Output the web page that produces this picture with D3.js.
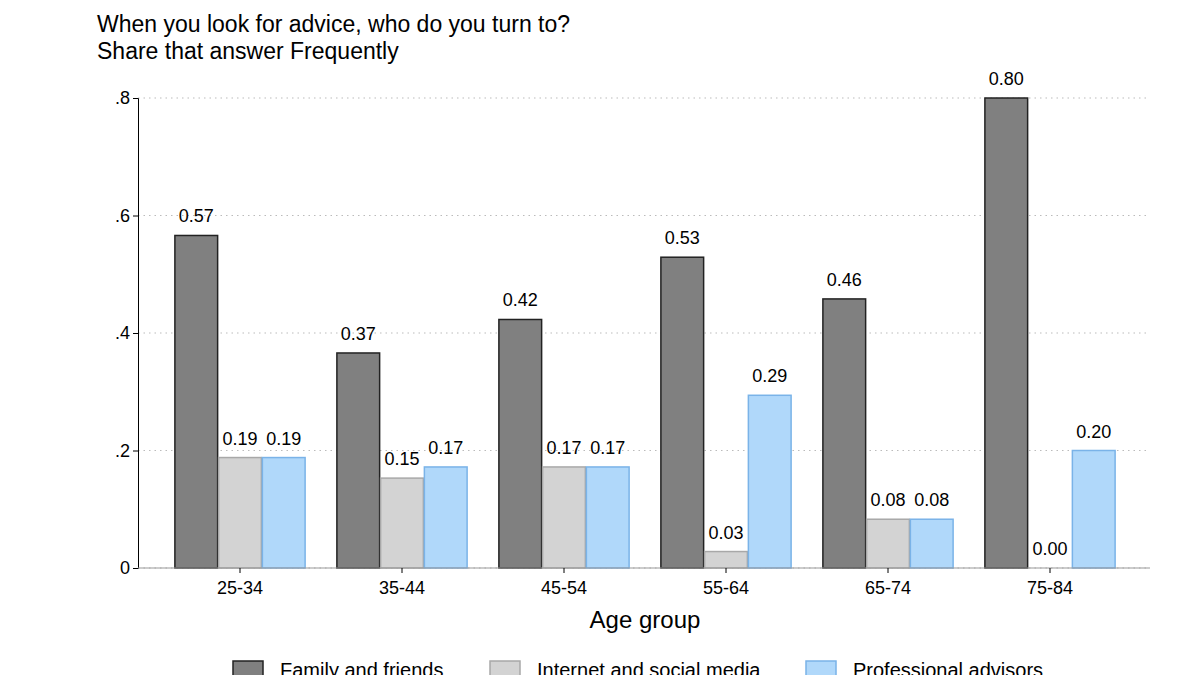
<!DOCTYPE html>
<html><head><meta charset="utf-8">
<script src="https://cdn.jsdelivr.net/npm/d3@7"></script>
<style>body{margin:0;background:#fff}text{font-family:Arial,"Liberation Sans",sans-serif}</style>
</head><body><svg id="chart" width="1200" height="675"></svg>
<script>
const groups = ['25-34','35-44','45-54','55-64','65-74','75-84'];
const seriesNames = ['Family and friends','Internet and social media','Professional advisors'];
const family = [0.566, 0.366, 0.423, 0.529, 0.458, 0.80];
const internet = [0.188, 0.153, 0.172, 0.028, 0.083, 0.0];
const advisors = [0.188, 0.172, 0.172, 0.294, 0.083, 0.20];
const yTicks = [0, 0.2, 0.4, 0.6, 0.8];
const yTickLabels = ['0', '.2', '.4', '.6', '.8'];

const fills = ['#808080', '#d3d3d3', '#b0d8fa'];
const strokes = ['#222', '#a8a8a8', '#7ab3e8'];
const values = [family, internet, advisors];

const svg = d3.select('#chart');

svg.append('text').attr('x', 97).attr('y', 32).style('font-size', '23px')
  .text('When you look for advice, who do you turn to?');
svg.append('text').attr('x', 97).attr('y', 59).style('font-size', '23px')
  .text('Share that answer Frequently');

const x = d3.scaleBand().domain(groups).range([159, 1131]).paddingInner(0.19).paddingOuter(0.095);
const xs = d3.scaleBand().domain([0, 1, 2]).range([0, x.bandwidth()]);
const y = d3.scaleLinear().domain([0, 0.8]).range([568, 98]);

// gridlines
svg.append('g').selectAll('line').data(yTicks).enter().append('line')
  .attr('x1', 138).attr('x2', 1150)
  .attr('y1', d => y(d)).attr('y2', d => y(d))
  .attr('stroke', '#bbb').attr('stroke-dasharray', '1.5,4');

const yAxis = svg.append('g').attr('transform', 'translate(138,0)')
  .call(d3.axisLeft(y).tickValues(yTicks).tickFormat((d, i) => yTickLabels[i]).tickSize(5));
yAxis.select('.domain').attr('stroke', '#000');
yAxis.selectAll('text').attr('font-size', 18).attr('font-family', 'Arial');

// bars
values.forEach((vals, s) => {
  const g = svg.append('g');
  g.selectAll('rect').data(vals).enter().append('rect')
    .attr('x', (d, i) => x(groups[i]) + xs(s) + 0.5)
    .attr('y', d => y(d))
    .attr('width', xs.bandwidth() - 1)
    .attr('height', d => y(0) - y(d))
    .attr('fill', fills[s]).attr('stroke', strokes[s]).attr('stroke-width', 1.5);
  g.selectAll('text').data(vals).enter().append('text')
    .attr('x', (d, i) => x(groups[i]) + xs(s) + xs.bandwidth() / 2)
    .attr('y', d => y(d) - 13)
    .attr('text-anchor', 'middle').style('font-size', '18px')
    .text(d => d.toFixed(2));
});

const xAxis = svg.append('g').attr('transform', 'translate(0,568)')
  .call(d3.axisBottom(x).tickSize(5));
xAxis.select('.domain').attr('d', 'M138,0H1150').attr('stroke', '#999');
xAxis.selectAll('text').attr('font-size', 18).attr('font-family', 'Arial').attr('dy', '1em');

svg.append('text').attr('x', 645).attr('y', 628).attr('text-anchor', 'middle')
  .style('font-size', '24px').text('Age group');

// legend
const legX = [233, 490, 806];
seriesNames.forEach((n, s) => {
  svg.append('rect').attr('x', legX[s]).attr('y', 661).attr('width', 30).attr('height', 20)
    .attr('fill', fills[s]).attr('stroke', strokes[s]).attr('stroke-width', 1.5);
  svg.append('text').attr('x', legX[s] + 47).attr('y', 677).style('font-size', '20px').text(n);
});
</script></body></html>
